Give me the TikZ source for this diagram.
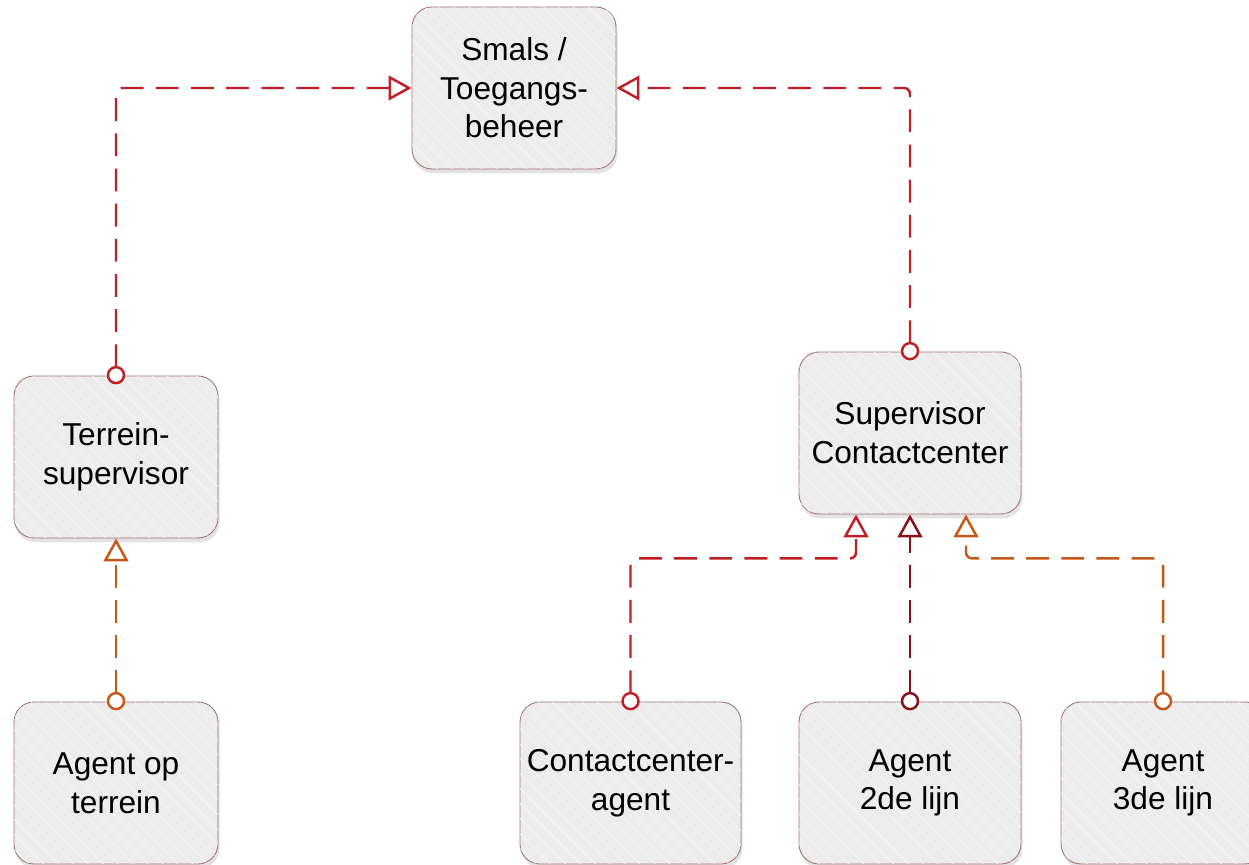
\documentclass[tikz,border=0pt]{standalone}
\usepackage{fontspec}
\setmainfont{Liberation Sans}
\usetikzlibrary{arrows.meta,positioning,shadows,patterns.meta}
\definecolor{ccred}{RGB}{190,32,38}
\definecolor{ccdark}{RGB}{135,18,24}
\definecolor{ccorange}{RGB}{196,88,24}
\definecolor{boxline}{RGB}{165,115,115}
\definecolor{boxfill}{RGB}{236,236,236}

\begin{document}
\begin{tikzpicture}[every node/.style={font=\fontsize{18}{22}\selectfont},
  role/.style={draw=boxline, line width=0.5pt, rounded corners=0.4cm, fill=boxfill,
    minimum width=4.08cm, minimum height=3.24cm, inner sep=0pt, align=center,
    drop shadow={shadow xshift=0.03cm, shadow yshift=-0.09cm, opacity=0.22},
    postaction={pattern={Lines[angle=-45,distance=6pt,line width=0.4pt]}, pattern color=white!60!boxfill}},
  link/.style={line width=1.4pt, dash pattern=on 13pt off 7pt, rounded corners=0.12cm,
    shorten <=-5pt,
    {Circle[open,fill=white,length=10.5pt,width=10.5pt]}-{Triangle[open,fill=white,length=13pt,width=14pt]}}]
\useasboundingbox (0,0) rectangle (24.98,17.3);
\node[role] (smals) at (10.28,15.54) {Smals /\\Toegangs-\\beheer};
\node[role] (tsup) at (2.32,8.16) {Terrein-\\supervisor};
\node[role, minimum width=4.44cm] (scc) at (18.2,8.64) {Supervisor\\Contactcenter};
\node[role] (aterr) at (2.32,1.64) {Agent op\\terrein};
\node[role, minimum width=4.42cm] (cca) at (12.61,1.64) {Contactcenter-\\agent};
\node[role, minimum width=4.44cm] (a2) at (18.2,1.64) {Agent\\2de lijn};
\node[role] (a3) at (23.26,1.64) {Agent\\3de lijn};
% links to toegangsbeheer
\draw[link, ccred] (tsup.north) |- (smals.west);
\draw[link, ccred] (scc.north) |- (smals.east);
% agents to supervisors
\draw[link, ccorange] (aterr.north) -- (tsup.south);
\draw[link, ccred] (cca.north) |- ([xshift=-1.08cm, yshift=-0.88cm]scc.south) -- ([xshift=-1.08cm]scc.south);
\draw[link, ccdark] (a2.north) -- (scc.south);
\draw[link, ccorange] (a3.north) |- ([xshift=1.12cm, yshift=-0.88cm]scc.south) -- ([xshift=1.12cm]scc.south);
\end{tikzpicture}
\end{document}
